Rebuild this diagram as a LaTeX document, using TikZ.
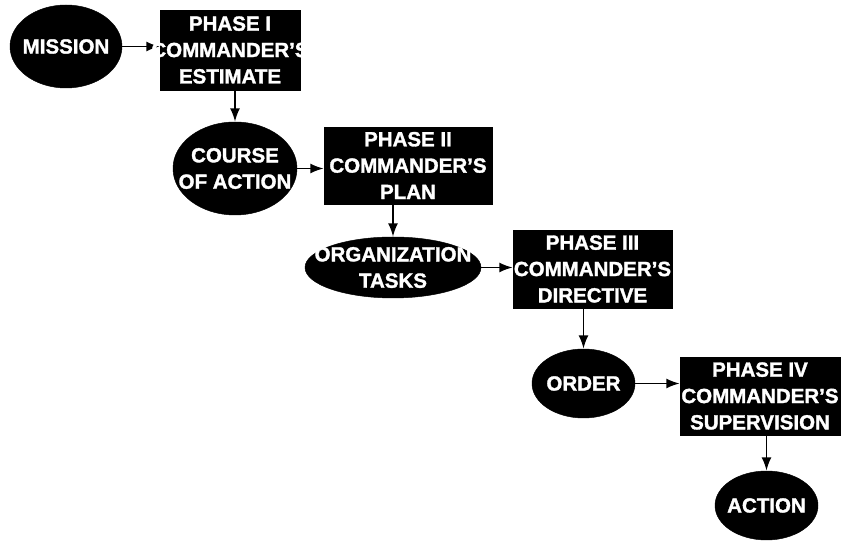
\documentclass[tikz,border=0pt]{standalone}
\usepackage{fontspec}
\setmainfont{Liberation Sans}[BoldFeatures={FakeBold=1.6}]
\usetikzlibrary{shapes.geometric,arrows.meta}

\begin{document}
\begin{tikzpicture}[scale=3,
  every node/.style={font=\bfseries\fontsize{17.5}{22.5}\selectfont, text=white},
  oval/.style={ellipse, fill=black, draw=black, inner sep=0pt},
  phase/.style={rectangle, fill=black, draw=black, inner sep=0pt},
  txt/.style={align=center},
  flow/.style={-{Latex[length=4mm,width=3mm]}, line width=1.7pt}]
\useasboundingbox (0,0) rectangle (8.43,5.43);

\node[oval, minimum width=3.36cm, minimum height=2.49cm] (mission) at (0.66, 4.965) {}; % Step.1
\node[phase, minimum width=4.2cm, minimum height=2.4cm] (phaseA) at (2.30, 4.93) {}; % Phase.1
\node[oval, minimum width=3.72cm, minimum height=2.79cm] (course) at (2.35, 3.745) {}; % Step.2
\node[phase, minimum width=5.04cm, minimum height=2.31cm] (phaseB) at (4.08, 3.775) {}; % Phase.2
\node[oval, minimum width=5.28cm, minimum height=1.83cm] (tasks) at (3.93, 2.755) {}; % Step.3
\node[phase, minimum width=4.77cm, minimum height=2.34cm] (phaseC) at (5.925, 2.74) {}; % Phase.3
\node[oval, minimum width=3.09cm, minimum height=2.07cm] (order) at (5.835, 1.595) {}; % Step.4
\node[phase, minimum width=4.8cm, minimum height=2.34cm] (phaseD) at (7.60, 1.47) {}; % Phase.4
\node[oval, minimum width=3.09cm, minimum height=2.07cm] (action) at (7.665, 0.375) {}; % Step.5

\draw[flow] (mission.east) -- (phaseA.west |- mission.east) ;
\draw[flow] (phaseA.south -| course.north) -- (course.north) ;
\draw[flow] (course.east) -- (phaseB.west |- course.east) ;
\draw[flow] (phaseB.south -| tasks.north) -- (tasks.north) ;
\draw[flow] (tasks.east) -- (phaseC.west |- tasks.east) ;
\draw[flow] (phaseC.south -| order.north) -- (order.north) ;
\draw[flow] (order.east) -- (phaseD.west |- order.east) ;
\draw[flow] (phaseD.south -| action.north) -- (action.north) ;

\node[txt] at (mission) {MISSION};
\node[txt] at (phaseA) {PHASE I\\COMMANDER'S\\ESTIMATE};
\node[txt] at (course) {COURSE\\OF ACTION};
\node[txt] at (phaseB) {PHASE II\\COMMANDER'S\\PLAN};
\node[txt] at (tasks) {ORGANIZATION\\TASKS};
\node[txt] at (phaseC) {PHASE III\\COMMANDER'S\\DIRECTIVE};
\node[txt] at (order) {ORDER};
\node[txt] at (phaseD) {PHASE IV\\COMMANDER'S\\SUPERVISION};
\node[txt] at (action) {ACTION};
\end{tikzpicture}
\end{document}
